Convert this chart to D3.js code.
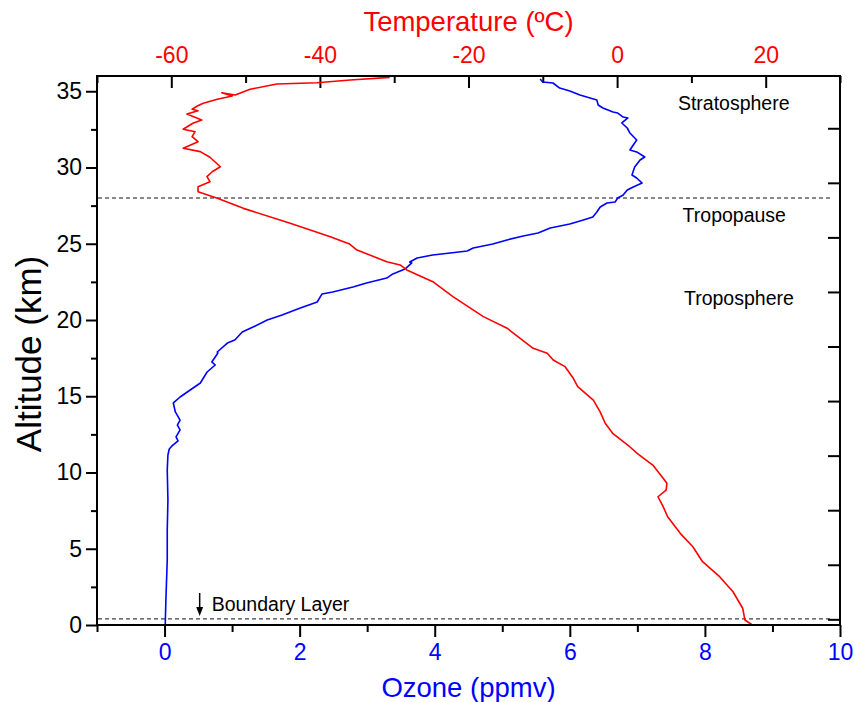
<!DOCTYPE html>
<html><head><meta charset="utf-8">
<script src="https://cdn.jsdelivr.net/npm/d3@7"></script>
<style>body{margin:0;background:#fff}svg{display:block}text{font-family:"Liberation Sans",Arial,sans-serif}</style>
</head><body>
<script>
// ---- data ----
const ozoneAlt = [0,1.64,4.26,6.23,8.20,10.16,11.15,11.54,11.74,12.07,12.33,12.79,13.11,13.44,13.97,14.56,14.95,15.41,15.87,16.59,17.05,17.25,17.84,17.90,18.49,18.69,19.21,19.54,20.00,20.33,20.79,21.18,21.70,21.84,22.16,22.43,22.75,23.02,23.34,23.74,23.80,24.07,24.26,24.39,24.52,24.72,24.98,25.25,25.51,25.70,26.03,26.30,26.56,26.75,27.08,27.41,27.67,27.74,28.00,28.20,28.52,28.72,28.98,29.31,29.51,30.03,30.49,30.69,31.02,31.15,31.48,31.80,32.26,32.59,32.92,33.25,33.31,33.57,33.64,33.90,34.10,34.43,34.62,34.75,35.02,35.21,35.54,35.61,35.80];
const ozonePpmv = [0.01,0.02,0.04,0.04,0.05,0.04,0.05,0.07,0.11,0.20,0.17,0.23,0.19,0.23,0.16,0.13,0.23,0.38,0.53,0.63,0.75,0.70,0.79,0.78,0.93,1.04,1.15,1.31,1.52,1.74,2.01,2.26,2.33,2.49,2.79,2.99,3.29,3.38,3.56,3.66,3.63,3.74,3.97,4.23,4.48,4.57,4.86,5.07,5.31,5.53,5.71,6.00,6.20,6.34,6.40,6.45,6.55,6.67,6.71,6.79,6.85,6.94,7.07,6.99,6.92,6.96,7.04,7.11,6.99,6.89,6.94,6.99,6.89,6.85,6.77,6.86,6.79,6.71,6.64,6.49,6.42,6.40,6.25,6.15,6.00,5.85,5.75,5.60,5.56];
const tempAlt = [0,0.33,1.10,2.18,3.17,4.15,5.13,6.01,7.10,7.76,8.41,8.85,9.29,9.62,10.49,11.26,11.69,12.57,13.23,13.99,14.75,15.63,16.18,16.94,17.38,17.82,18.14,19.46,20.22,21.53,22.51,23.28,23.61,23.82,24.59,24.98,25.46,26.34,27.32,27.98,28.41,28.74,29.07,29.40,29.72,30.05,30.67,31.04,31.26,31.69,32.02,32.35,32.51,32.90,33.11,33.51,33.72,33.82,34.03,34.21,34.47,34.69,34.90,34.75,35.13,35.48,35.56,35.74,35.91];
const tempC = [18.2,17.2,16.9,15.6,13.8,11.5,10.2,8.5,6.8,6.2,5.5,6.6,6.7,6.2,4.8,2.7,1.7,-0.6,-1.6,-2.3,-3.2,-5.3,-5.9,-7.0,-8.6,-9.4,-11.3,-14.8,-18.0,-22.1,-24.8,-28.3,-29.2,-31.0,-35.0,-36.0,-38.6,-44.0,-50.3,-53.8,-56.4,-56.4,-54.8,-55.2,-54.5,-53.4,-54.8,-56.1,-58.4,-56.4,-57.2,-56.8,-58.4,-57.1,-55.9,-57.9,-56.4,-57.2,-56.5,-55.7,-53.8,-51.8,-53.2,-51.4,-49.4,-45.8,-40.4,-35.9,-30.6];
const ozoneTicks = [0,2,4,6,8,10];
const ozoneMinor = [-1,1,3,5,7,9];
const tempTicks = [-60,-40,-20,0,20];
const tempMinor = [-70,-50,-30,-10,10,30];
const altTicks = [0,5,10,15,20,25,30,35];
const altMinor = [2.5,7.5,12.5,17.5,22.5,27.5,32.5];
const rightTicks = [0,1,2,3,4,5,6,7,8,9];
const layerLevels = [28, 0.4];
const layerLabels = [
  {text:"Stratosphere", oz:7.60, alt:33.75},
  {text:"Tropopause", oz:7.67, alt:26.45},
  {text:"Troposphere", oz:7.69, alt:21.0}
];

// ---- chart ----
const W=854,H=702, L=97, R=840, T=76, B=625;
const svg=d3.select("body").append("svg").attr("width",W).attr("height",H);
const xO=d3.scaleLinear().domain([-1,10]).range([L,R]);
const xT=d3.scaleLinear().domain([-70,30]).range([L,R]);
const y=d3.scaleLinear().domain([0,36]).range([B,T]);
const yR=d3.scaleLinear().domain([-0.104,9.958]).range([B,T]);

const fs=23;
const fmt=d=>String(d); // plain hyphen-minus like the original
function styleAxis(g,color){
  g.select(".domain").remove();
  g.selectAll(".tick line").attr("stroke","#000").attr("stroke-width",2);
  g.selectAll(".tick text").attr("fill",color).style("font-size",fs+"px").style("font-family","Liberation Sans, Arial, sans-serif");
}
// top (temperature)
svg.append("g").attr("transform",`translate(0,${T})`)
  .call(d3.axisTop(xT).tickValues(tempTicks).tickSize(-12).tickPadding(13).tickFormat(fmt))
  .call(g=>styleAxis(g,"#ff0000"));
svg.append("g").attr("transform",`translate(0,${T})`)
  .call(d3.axisTop(xT).tickValues(tempMinor).tickSize(-7).tickFormat(""))
  .call(g=>styleAxis(g,"#ff0000"));
// bottom (ozone)
svg.append("g").attr("transform",`translate(0,${B})`)
  .call(d3.axisBottom(xO).tickValues(ozoneTicks).tickSize(12).tickPadding(7).tickFormat(fmt))
  .call(g=>styleAxis(g,"#0000ff"));
svg.append("g").attr("transform",`translate(0,${B})`)
  .call(d3.axisBottom(xO).tickValues(ozoneMinor).tickSize(7).tickFormat(""))
  .call(g=>styleAxis(g,"#0000ff"));
// left (altitude)
svg.append("g").attr("transform",`translate(${L},0)`)
  .call(d3.axisLeft(y).tickValues(altTicks).tickSize(11).tickPadding(4).tickFormat(fmt))
  .call(g=>styleAxis(g,"#000"));
svg.append("g").attr("transform",`translate(${L},0)`)
  .call(d3.axisLeft(y).tickValues(altMinor).tickSize(6).tickFormat(""))
  .call(g=>styleAxis(g,"#000"));
// right (unlabelled, inward)
svg.append("g").attr("transform",`translate(${R},0)`)
  .call(d3.axisRight(yR).tickValues(rightTicks).tickSize(-12).tickFormat(""))
  .call(g=>styleAxis(g,"#000"));

// dashed level lines
svg.selectAll("line.lvl").data(layerLevels).join("line").attr("class","lvl")
  .attr("x1",L+1).attr("x2",R-7).attr("y1",d=>y(d)).attr("y2",d=>y(d))
  .attr("stroke","#111").attr("stroke-width",1).attr("stroke-dasharray","4,3");

// curves
svg.append("clipPath").attr("id","pc").append("rect").attr("x",L).attr("y",T).attr("width",R-L).attr("height",B-T);
const ozoneData=ozoneAlt.map((a,i)=>({a,v:ozonePpmv[i]}));
const tempData=tempAlt.map((a,i)=>({a,v:tempC[i]}));
svg.append("path").datum(ozoneData).attr("clip-path","url(#pc)")
  .attr("d",d3.line().x(d=>xO(d.v)).y(d=>y(d.a)))
  .attr("fill","none").attr("stroke","#0000ff").attr("stroke-width",1.6).attr("stroke-linejoin","round");
svg.append("path").datum(tempData).attr("clip-path","url(#pc)")
  .attr("d",d3.line().x(d=>xT(d.v)).y(d=>y(d.a)))
  .attr("fill","none").attr("stroke","#ff0000").attr("stroke-width",1.6).attr("stroke-linejoin","round");

// frame
svg.append("rect").attr("x",L).attr("y",T).attr("width",R-L).attr("height",B-T)
  .attr("fill","none").attr("stroke","#000").attr("stroke-width",2);

// annotations
svg.selectAll("text.ann").data(layerLabels).join("text").attr("class","ann")
  .attr("x",d=>xO(d.oz)).attr("y",d=>y(d.alt)).attr("fill","#000").style("font-size","19.5px").text(d=>d.text);
// boundary layer arrow + label
const ax=xO(0.52);
svg.append("line").attr("x1",ax).attr("x2",ax).attr("y1",593).attr("y2",608).attr("stroke","#000").attr("stroke-width",1.5);
svg.append("path").attr("d",`M${ax-3.5},607 L${ax+3.5},607 L${ax},616 Z`).attr("fill","#000");
svg.append("text").attr("x",ax+12).attr("y",611).style("font-size","19.5px").text("Boundary Layer");

// titles
svg.append("text").attr("x",(L+R)/2).attr("y",31).attr("text-anchor","middle").attr("fill","#ff0000").style("font-size","27.5px").text("Temperature (ºC)");
svg.append("text").attr("x",(L+R)/2).attr("y",697).attr("text-anchor","middle").attr("fill","#0000ff").style("font-size","27.5px").text("Ozone (ppmv)");
svg.append("text").attr("transform","translate(41,354) rotate(-90)").attr("text-anchor","middle").attr("fill","#000").style("font-size","35px").text("Altitude (km)");
</script>
</body></html>
